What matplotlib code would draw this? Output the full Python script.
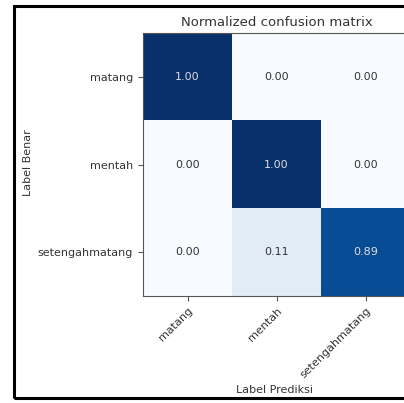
import matplotlib
matplotlib.use("Agg")
import matplotlib.pyplot as plt
from matplotlib.patches import Rectangle
import numpy as np

classes = ["matang", "mentah", "setengahmatang"]
row_matang = [1.00, 0.00, 0.00]
row_mentah = [0.00, 1.00, 0.00]
row_setengah = [0.00, 0.11, 0.89]
title = "Normalized confusion matrix"
xlabel = "Label Prediksi"
ylabel = "Label Benar"

cm = np.array([row_matang, row_mentah, row_setengah])

fig = plt.figure(figsize=(4.04, 4.03), dpi=100)
fig.patch.set_facecolor("white")

# outer frame
fig.patches.append(Rectangle((14 / 404, 1 - 398 / 403), 1.2, (398 - 6) / 403,
                             transform=fig.transFigure, fill=False,
                             edgecolor="black", linewidth=2.2, zorder=10))

ax = fig.add_axes([143 / 404, 1 - 296 / 403, (410 - 143) / 404, (296 - 33) / 403])
ax.imshow(cm, interpolation="nearest", cmap="Blues", vmin=0, vmax=1, aspect="auto")
ax.set_title(title, fontsize=9.5, color="#333333", pad=5)
ticks = np.arange(len(classes))
ax.set_xticks(ticks)
ax.set_xticklabels(classes, rotation=45, ha="right", rotation_mode="anchor",
                   fontsize=8, color="#333333")
ax.set_yticks(ticks)
ax.set_yticklabels(classes, fontsize=8, color="#333333")
ax.tick_params(colors="#555555", labelcolor="#333333", length=3.5)
for s in ax.spines.values():
    s.set_color("#555555")
    s.set_linewidth(0.8)

thresh = cm.max() / 2.0
for i in range(cm.shape[0]):
    for j in range(cm.shape[1]):
        ax.text(j, i, format(cm[i, j], ".2f"), ha="center", va="center", fontsize=8,
                color="#dddddd" if cm[i, j] > thresh else "#333333")

fig.text(28 / 404, 1 - 163 / 403, ylabel, rotation=90, ha="center", va="center",
         fontsize=8, color="#333333")
fig.text(275 / 404, 1 - 390 / 403, xlabel, ha="center", va="center",
         fontsize=8, color="#333333")

fig.savefig("out.png", dpi=100)
